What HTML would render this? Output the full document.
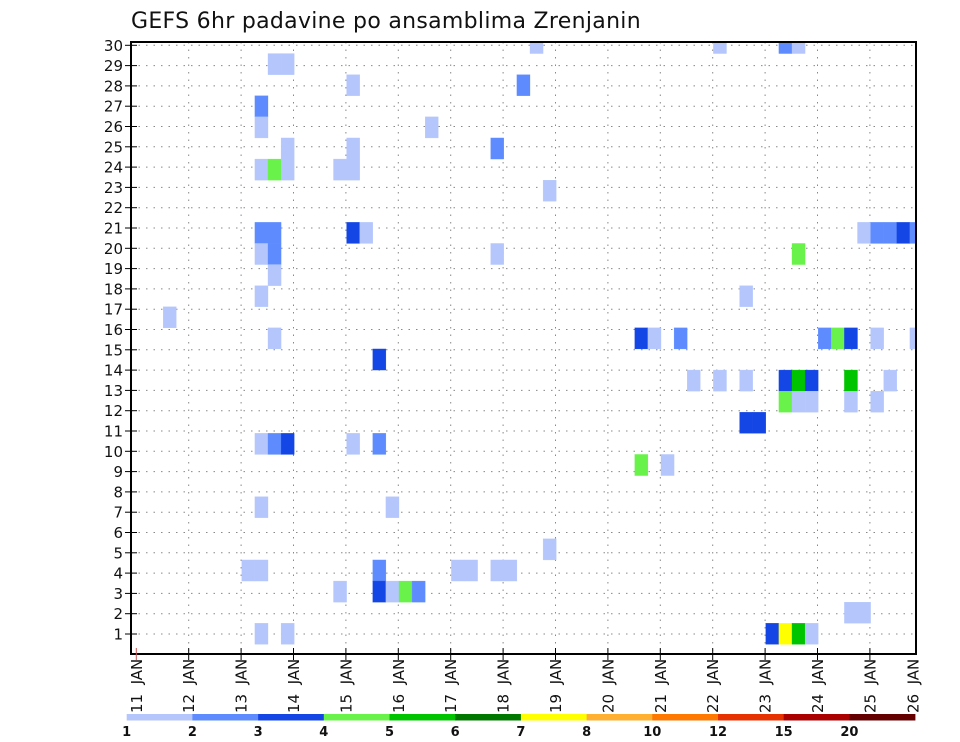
<!DOCTYPE html>
<html><head><meta charset="utf-8">
<style>
html,body{margin:0;padding:0;background:#fff;}
svg{display:block;font-family:"DejaVu Sans","Liberation Sans",sans-serif;}
</style></head>
<body>
<svg id="chart" width="960" height="742" viewBox="0 0 960 742" xmlns="http://www.w3.org/2000/svg">
<text x="131" y="28" font-size="22" fill="#111" style="letter-spacing:0.3px">GEFS 6hr padavine po ansamblima Zrenjanin</text>
<defs><clipPath id="plotclip"><rect x="131" y="42" width="785" height="612"/></clipPath></defs>
<g id="grid"></g>
<g id="cells" clip-path="url(#plotclip)"></g>
<rect x="131" y="42" width="785" height="612" fill="none" stroke="#000" stroke-width="2"/>
<g id="yaxis"></g>
<g id="xaxis"></g>
<g id="colorbar"></g>
</svg>
<script>
// ---- data ----
var dayNums = ["11","12","13","14","15","16","17","18","19","20","21","22","23","24","25","26"];
var memberLabels = [1,2,3,4,5,6,7,8,9,10,11,12,13,14,15,16,17,18,19,20,21,22,23,24,25,26,27,28,29,30];
var levelLabels = ["1","2","3","4","5","6","7","8","10","12","15","20"];
var levelColors = ["#b4c6fc","#5e8cff","#1446e6","#68f24a","#00c400","#007800","#ffff00","#ffb030","#ff7800","#e63200","#aa0000","#640000"];
// cell data: 6-hour step from 11 JAN 00Z, ensemble member row index, colour level index
var cellSteps   = [30,44,49,50, 10,11, 16,29, 9, 9,22, 11,16,27, 9,10,11,15,16, 31,
  9,10,16,17,55,56,57,58,59, 9,10,27,50, 10, 9,46, 2,
  10,38,39,41,52,53,54,56,59, 18, 42,44,46,49,50,51,54,57, 49,50,51,54,56, 46,47,
  9,10,11,16,18, 38,40, 9,19, 31, 8,9,18,24,25,27,28, 15,18,19,20,21, 54,55, 9,11,48,49,50,51];
var cellMembers = [28,28,28,28, 27,27, 26,26, 25, 24,24, 23,23,23, 22,22,22,22,22, 21,
  19,19,19,19,19,19,19,19,19, 18,18,18,18, 17, 16,16, 15,
  14,14,14,14,14,14,14,14,14, 13, 12,12,12,12,12,12,12,12, 11,11,11,11,11, 10,10,
  9,9,9,9,9, 8,8, 6,6, 4, 3,3,3,3,3,3,3, 2,2,2,2,2, 1,1, 0,0,0,0,0,0];
var cellLevels  = [0,0,1,0, 0,0, 0,1, 1, 0,0, 0,0,1, 0,3,0,0,0, 0,
  1,1,2,0,0,1,1,2,1, 0,1,0,3, 0, 0,0, 0,
  0,2,0,1,1,3,2,0,0, 2, 0,0,0,2,4,2,4,0, 3,0,0,0,0, 2,2,
  0,1,2,0,1, 3,0, 0,0, 0, 0,0,1,0,0,0,0, 0,2,0,3,1, 0,0, 0,0,2,6,4,0];

// ---- scales ----
var NS="http://www.w3.org/2000/svg";
function xDay(i){ return 136.3 + 52.4*i; }
function xStep(k){ return 137 + 13.1*k; }
function yRow(n){ return 634 - 20.3*(n-1); }
function yCell(j){ return 633.8 - 21.1*j; }
function el(tag, attrs, parent){
  var e=document.createElementNS(NS,tag);
  for(var a in attrs) e.setAttribute(a, attrs[a]);
  parent.appendChild(e); return e;
}
var grid=document.getElementById('grid'), cells=document.getElementById('cells');
var yaxis=document.getElementById('yaxis'), xaxis=document.getElementById('xaxis'), cbar=document.getElementById('colorbar');

for (var i=1;i<dayNums.length-1;i++){
  var g=el('line',{x1:xDay(i),x2:xDay(i),y1:42,y2:654,stroke:'#888','stroke-width':1,'stroke-dasharray':'1.5,6'},grid);
  
  
}
for (var n=0;n<memberLabels.length;n++){
  var h=el('line',{x1:131,x2:916,y1:yRow(memberLabels[n]),y2:yRow(memberLabels[n]),stroke:'#888','stroke-width':1,'stroke-dasharray':'1.5,6'},grid);
  
  
}

for (var c=0;c<cellSteps.length;c++){
  var r=el('rect',{x:xStep(cellSteps[c]),y:yCell(cellMembers[c])-10.55,width:13.1,height:21.1,fill:levelColors[cellLevels[c]],stroke:levelColors[cellLevels[c]],'stroke-width':0.3},cells);
  
  
}

for (var n=0;n<memberLabels.length;n++){
  var yy=yRow(memberLabels[n]);
  var t=el('line',{x1:125,x2:137,y1:yy,y2:yy,stroke:'#000','stroke-width':1},yaxis);
  
  
  var lb=el('text',{x:123,y:yy+5.5,'font-size':15,'text-anchor':'end',fill:'#111'},yaxis);
  lb.textContent=memberLabels[n];
  
  
}

for (var i=0;i<dayNums.length;i++){
  var xx=(i==dayNums.length-1)?913:xDay(i);
  if(i<dayNums.length-1){
    var tk=el('line',{x1:xx,x2:xx,y1:648,y2:660,stroke:(i==0?'#c55':'#000'),'stroke-width':1},xaxis);
    
    
  }
  var tx=el('text',{x:0,y:0,'font-size':15,fill:'#111',transform:'translate('+(xx+5.5)+',713) rotate(-90)'},xaxis);
  tx.textContent=dayNums[i]+'\u00a0\u00a0JAN';
  
  
}

var cbX=126.7, cbW=65.7;
for (var l=0;l<levelColors.length;l++){
  var s=el('rect',{x:cbX+cbW*l,y:714,width:cbW+0.3,height:6.5,fill:levelColors[l]},cbar);
  
  
  var ct=el('text',{x:cbX+cbW*l,y:736,'font-size':13,'font-weight':'bold','text-anchor':'middle',fill:'#111'},cbar);
  ct.textContent=levelLabels[l];
  
  
}
</script>
</body></html>
